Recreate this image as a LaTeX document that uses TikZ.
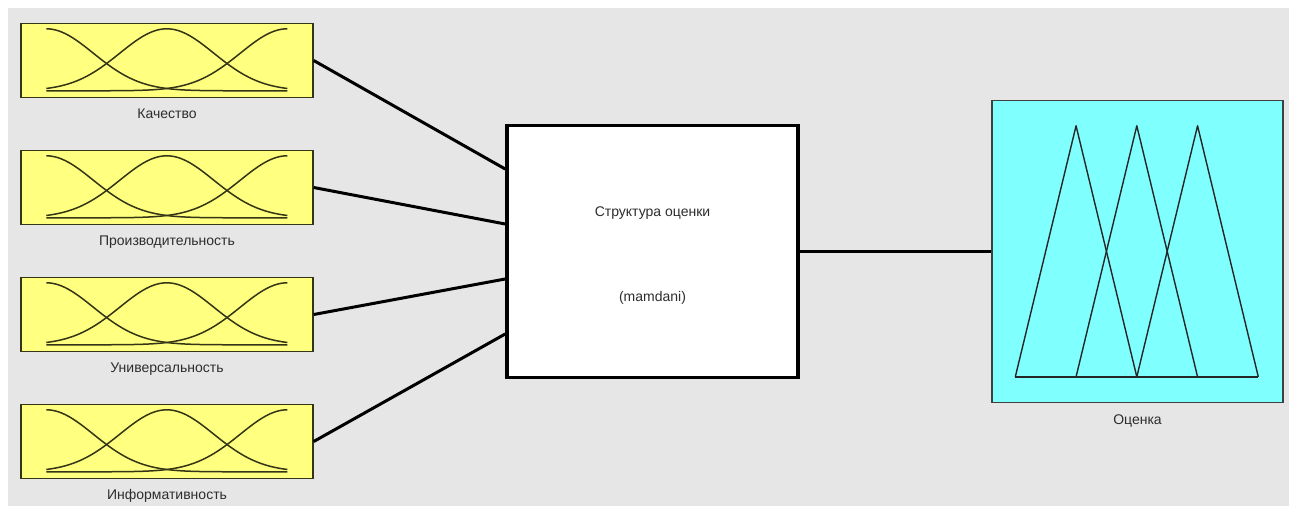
\documentclass[tikz,border=0pt]{standalone}
\usepackage{fontspec}
\setmainfont{Liberation Sans}
\usetikzlibrary{positioning}
\definecolor{panelgrey}{RGB}{230,230,230}
\definecolor{mfyellow}{RGB}{255,255,128}
\definecolor{mfcyan}{RGB}{128,255,255}
\definecolor{mfline}{RGB}{52,52,22}
\definecolor{labelgrey}{RGB}{45,45,45}
\tikzset{
  inbox/.style={draw=mfline, line width=1.4pt, fill=mfyellow, minimum width=292pt, minimum height=74pt, inner sep=0pt},
  outbox/.style={draw=black!75, line width=1.4pt, fill=mfcyan, minimum width=291pt, minimum height=302pt, inner sep=0pt},
  sysbox/.style={draw=black, line width=3.6pt, fill=white, minimum width=291pt, minimum height=252pt, inner sep=0pt},
  varlabel/.style={text=labelgrey, font=\fontsize{14}{16}\selectfont, inner sep=1pt},
  link/.style={line width=3pt},
  mf/.style={draw=mfline, line width=1.5pt},
  trimf/.style={draw=black!85, line width=1.4pt, line join=round}
}

\begin{document}
\begin{tikzpicture}[x=1pt,y=-1pt]
  \useasboundingbox (0,0) rectangle (1289,506);
  \fill[panelgrey] (8,8) rectangle (1289,506);

  \node (in1) [inbox] at (167,60.5) {};
  \node (in2) [inbox] at (167,187.5) {};
  \node (in3) [inbox] at (167,314.5) {};
  \node (in4) [inbox] at (167,441.5) {};
  \node (lab1) [varlabel, below=9pt of in1] {Качество};
  \node (lab2) [varlabel, below=9pt of in2] {Производительность};
  \node (lab3) [varlabel, below=9pt of in3] {Универсальность};
  \node (lab4) [varlabel, below=9pt of in4] {Информативность};

  \foreach \b in {in1,in2,in3,in4} {
    \begin{scope}[shift={(\b.north west)}]
      \draw[mf] plot[domain=26:267, samples=80] (\x, {68-62*exp(-0.5*((\x-26)/47)^2)});
      \draw[mf] plot[domain=26:267, samples=80] (\x, {68-62*exp(-0.5*((\x-146.5)/47)^2)});
      \draw[mf] plot[domain=26:267, samples=80] (\x, {68-62*exp(-0.5*((\x-267)/47)^2)});
    \end{scope}
  }

  \node (sys) [sysbox] at (652.5,251.5) {};
  \node (sysname) [varlabel] at ([yshift=38pt]sys.center) {Структура оценки};
  \node (systype) [varlabel] at ([yshift=-46pt]sys.center) {(mamdani)};

  \node (out) [outbox] at (1137.5,251.5) {};
  \node (labout) [varlabel, below=10pt of out] {Оценка};
  \begin{scope}[shift={(out.north west)}]
    \draw[trimf] (24,277) -- (84.75,26) -- (145.5,277);
    \draw[trimf] (84.75,277) -- (145.5,26) -- (206.25,277);
    \draw[trimf] (145.5,277) -- (206.25,26) -- (267,277);
    \draw[trimf] (24,277) -- (267,277);
  \end{scope}

  \draw[link] (in1.east) -- ([yshift=82.5pt]sys.west);
  \draw[link] (in2.east) -- ([yshift=27.5pt]sys.west);
  \draw[link] (in3.east) -- ([yshift=-27.5pt]sys.west);
  \draw[link] (in4.east) -- ([yshift=-82.5pt]sys.west);
  \draw[link] (sys.east) -- (out.west);
\end{tikzpicture}
\end{document}
